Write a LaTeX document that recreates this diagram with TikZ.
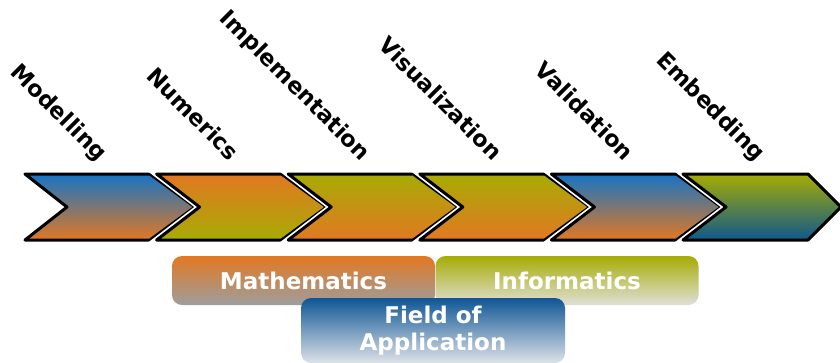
\documentclass[tikz,border=0pt]{standalone}
\usepackage{fontspec}
\setmainfont{DejaVu Sans}
\definecolor{cblue}{RGB}{22,116,198}
\definecolor{corange}{RGB}{226,120,34}
\definecolor{colive}{RGB}{166,172,4}
\definecolor{cdblue}{RGB}{14,88,140}
\definecolor{bgray}{RGB}{158,158,158}
\definecolor{blgray}{RGB}{224,224,216}
\definecolor{fblue}{RGB}{14,86,148}
\definecolor{flgray}{RGB}{222,226,232}
\tikzset{
  chevbox/.style={draw=black,line width=3pt,line join=round,
    preaction={draw=white,line width=6.5pt}},
  lab/.style={rotate=-45,anchor=base east,inner sep=0pt,font=\bfseries\fontsize{22.5}{26}\selectfont},
  field/.style={rounded corners=10pt,text=white,align=center,inner sep=0pt,
    font=\bfseries\fontsize{23}{27}\selectfont,minimum width=263pt},
}
\newcommand\mychev[5]{%
  \path[chevbox,top color=#2,bottom color=#3]
    (#1,174) -- ({#1+125},174) -- ({#1+125+#4},207) -- ({#1+125},240)
    -- (#1,240) -- ({#1+#5},207) -- cycle;}
\begin{document}
\begin{tikzpicture}[x=1pt,y=-1pt]
\useasboundingbox (0,0) rectangle (840,362);
% chevrons
\mychev{25}{cblue}{corange}{45}{42}
\mychev{156.6}{corange}{colive}{45}{43}
\mychev{288.2}{colive}{corange}{45}{43}
\mychev{419.8}{colive}{corange}{45}{43}
\mychev{551.4}{cblue}{corange}{45}{43}
\mychev{683}{colive}{cdblue}{33}{43}
% labels
\node[lab] (l1) at (98,162) {Modelling};
\node[lab] (l2) at (229.6,162) {Numerics};
\node[lab] (l3) at (361.2,162) {Implementation};
\node[lab] (l4) at (492.8,162) {Visualization};
\node[lab] (l5) at (624.4,162) {Validation};
\node[lab] (l6) at (756,162) {Embedding};
% fields
\node[field,top color=corange,bottom color=bgray,minimum height=49pt] (math) at (303.5,280.5) {Mathematics};
\node[field,top color=colive,bottom color=blgray,minimum height=49pt] (info) at (567,280.5) {Informatics};
\node[field,top color=fblue,bottom color=flgray,minimum height=65pt,minimum width=264pt] (app) at (433,330.5) {Field of\\Application};
\end{tikzpicture}
\end{document}
